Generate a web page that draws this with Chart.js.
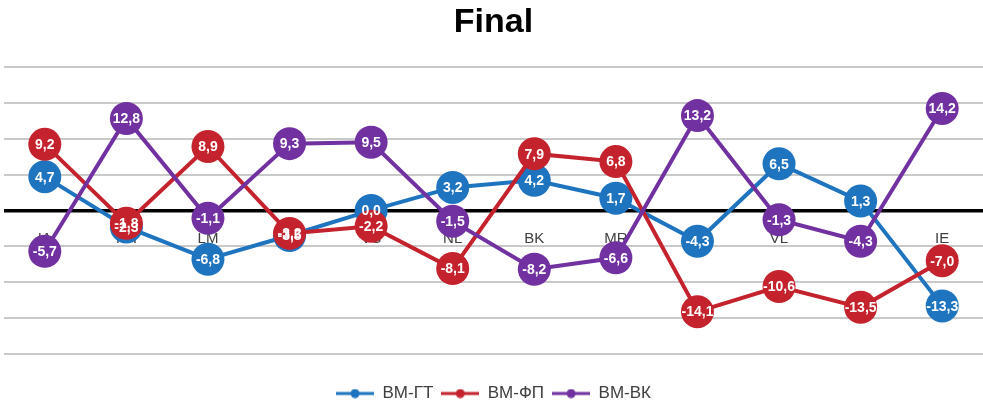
<!DOCTYPE html>
<html>
<head>
<meta charset="utf-8">
<script src="https://cdn.jsdelivr.net/npm/chart.js@4.4.1/dist/chart.umd.min.js"></script>
<style>
  html, body { margin: 0; background: #fff; }
  #wrap { width: 983px; height: 406px; }
</style>
</head>
<body>
<div id="wrap"><canvas id="finalChart"></canvas></div>
<script>
// data
const categories = ['IA', 'PH', 'LM', 'BM', 'VS', 'NL', 'BK', 'MR', 'AS', 'VL', 'CR', 'IE'];
const vmGt = [4.7, -2.3, -6.8, -3.5, 0.0, 3.2, 4.2, 1.7, -4.3, 6.5, 1.3, -13.3];
const vmFp = [9.2, -1.8, 8.9, -3.2, -2.2, -8.1, 7.9, 6.8, -14.1, -10.6, -13.5, -7.0];
const vmVk = [-5.7, 12.8, -1.1, 9.3, 9.5, -1.5, -8.2, -6.6, 13.2, -1.3, -4.3, 14.2];
const seriesNames = ['ВМ-ГТ', 'ВМ-ФП', 'ВМ-ВК'];
const yMin = -20, yMax = 20, yStep = 5;

const colors = ['#1f74c0', '#c4222c', '#7131a1'];
const FONT = '"Liberation Sans", Arial, sans-serif';

// legend marker: short line with a dot
function legendMark(color) {
    const c = document.createElement('canvas');
    c.width = 38; c.height = 10;
    const g = c.getContext('2d');
    g.strokeStyle = color; g.lineWidth = 3;
    g.beginPath(); g.moveTo(0, 5); g.lineTo(38, 5); g.stroke();
    g.fillStyle = color;
    g.beginPath(); g.arc(19, 5, 4.5, 0, Math.PI * 2); g.fill();
    return c;
}

// white value labels inside the markers
const pointLabels = {
    id: 'pointLabels',
    afterDatasetsDraw(chart) {
        const ctx = chart.ctx;
        ctx.save();
        ctx.font = 'bold 14px ' + FONT;
        ctx.fillStyle = '#fff';
        ctx.textAlign = 'center';
        ctx.textBaseline = 'middle';
        chart.data.datasets.forEach((ds, i) => {
            chart.getDatasetMeta(i).data.forEach((pt, j) => {
                ctx.fillText(ds.data[j].toFixed(1).replace('.', ','), pt.x, pt.y + 1);
            });
        });
        ctx.restore();
    }
};

const seriesData = [vmGt, vmFp, vmVk];
const datasets = seriesData.map((d, i) => ({
    label: seriesNames[i],
    data: d,
    borderColor: colors[i],
    backgroundColor: colors[i],
    pointBackgroundColor: colors[i],
    pointBorderColor: colors[i],
    borderWidth: 4,
    pointRadius: 16.5,
    pointBorderWidth: 0,
    pointStyle: 'circle',
    legendStyle: legendMark(colors[i]),
    order: 3 - i
}));

new Chart(document.getElementById('finalChart'), {
    type: 'line',
    data: { labels: categories, datasets },
    options: {
        responsive: true,
        maintainAspectRatio: false,
        animation: false,
        layout: { autoPadding: false, padding: { left: 4, right: 0, top: 0, bottom: -6 } },
        plugins: {
            title: {
                display: true,
                text: 'Final',
                color: '#000',
                font: { family: FONT, size: 34, weight: 'bold' },
                padding: { top: 2, bottom: 24 }
            },
            legend: {
                position: 'bottom',
                labels: {
                    color: '#404040',
                    font: { family: FONT, size: 17 },
                    usePointStyle: true,
                    pointStyleWidth: 38,
                    padding: 8,
                    generateLabels(chart) {
                        return chart.data.datasets.map((ds, i) => ({
                            text: ds.label,
                            fillStyle: ds.borderColor,
                            strokeStyle: ds.borderColor,
                            fontColor: '#404040',
                            pointStyle: ds.legendStyle,
                            lineWidth: 0,
                            datasetIndex: i
                        }));
                    }
                }
            },
            tooltip: { enabled: false }
        },
        scales: {
            x: {
                type: 'category',
                position: { y: 0 },
                offset: true,
                z: 1,
                grid: { display: false },
                border: { display: false },
                ticks: { color: '#404040', font: { family: FONT, size: 15 }, padding: 11, maxRotation: 0 }
            },
            gap: {
                type: 'category',
                position: 'bottom',
                labels: [''],
                grid: { display: false },
                border: { display: false },
                ticks: { display: false },
                afterFit(s) { s.height = 23; }
            },
            y: {
                min: yMin,
                max: yMax,
                ticks: { display: false, stepSize: yStep, padding: 0 },
                border: { display: false },
                grid: {
                    drawTicks: false,
                    color: ctx => ctx.tick && ctx.tick.value === 0 ? '#000' : '#c9c9c9',
                    lineWidth: ctx => ctx.tick && ctx.tick.value === 0 ? 3.5 : 2
                }
            }
        }
    },
    plugins: [pointLabels]
});
</script>
</body>
</html>
